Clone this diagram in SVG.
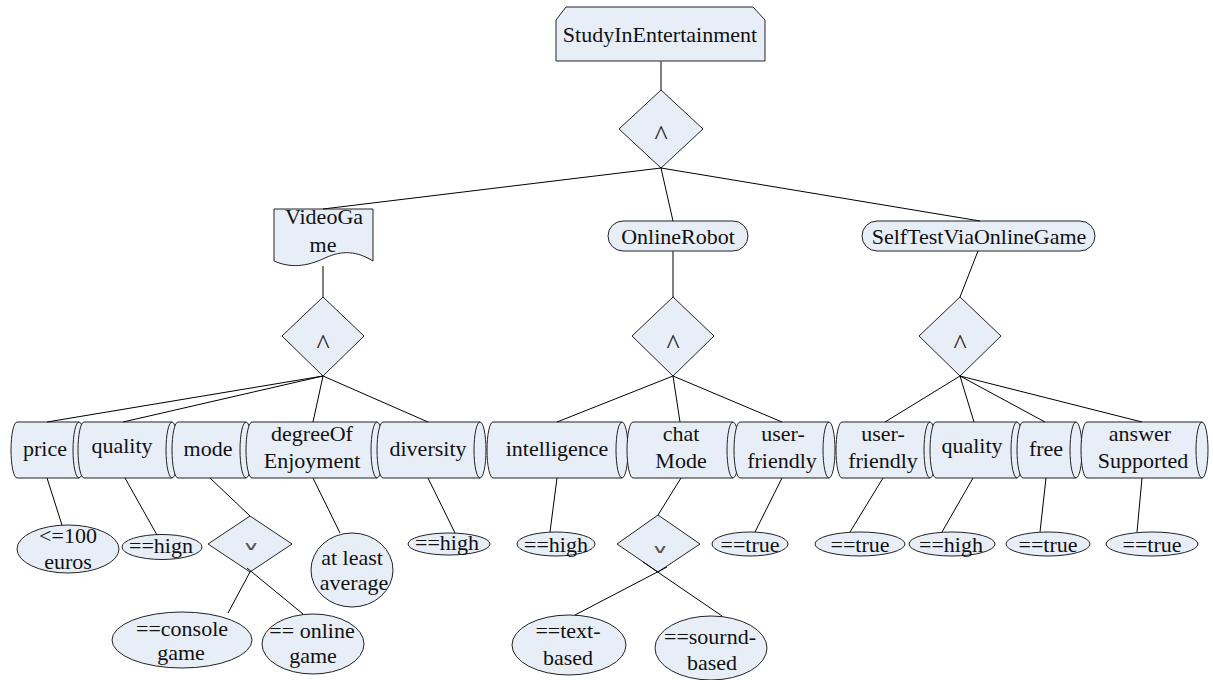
<svg xmlns="http://www.w3.org/2000/svg" width="1213" height="680" viewBox="0 0 1213 680">
<style>
.n{fill:#E8EEF8;stroke:#222;stroke-width:1}
.i{fill:none;stroke:#222;stroke-width:1}
.t{font-family:"Liberation Serif","Times New Roman",serif;font-size:22px;fill:#111;text-anchor:middle}
.k{font-family:"Liberation Serif","Times New Roman",serif;font-size:28px;fill:#222;text-anchor:middle}
.o{font-family:"DejaVu Serif","DejaVu Sans",serif;font-size:24px;fill:#555;text-anchor:middle}
.c{stroke:#000;stroke-width:1;fill:none}
.g{stroke:#555;stroke-width:1.5;fill:none}
</style>
<rect width="1213" height="680" fill="#fff"/>
<g id="nodes">
<g id="root"><path class="n" d="M566,7 H753 L765,20 V61 H556 V20 Z"/><text class="t" x="660" y="42">StudyInEntertainment</text></g>
<g id="and0"><polygon class="n" points="661,90 703,129 661,168 619,129"/><text class="k" x="661" y="144">^</text></g>
<g id="videogame"><path class="n" d="M274,209 H373 V261 C357,251 342,250 325,258 C306,267 290,268 274,261 Z"/><text class="t" x="324" y="224">VideoGa</text><text class="t" x="323" y="252">me</text></g>
<g id="onlinerobot"><rect class="n" x="608" y="221" width="140" height="30" rx="15"/><text class="t" x="678" y="244">OnlineRobot</text></g>
<g id="selftest"><rect class="n" x="862" y="221" width="233" height="30" rx="15"/><text class="t" x="979" y="244">SelfTestViaOnlineGame</text></g>
<g id="and1"><polygon class="n" points="323,297 364,336 323,376 282,336"/><text class="k" x="323" y="353">^</text></g>
<g id="and2"><polygon class="n" points="673,297 714,336 673,376 632,336"/><text class="k" x="673" y="353">^</text></g>
<g id="and3"><polygon class="n" points="960,297 1001,336 960,376 919,336"/><text class="k" x="960" y="353">^</text></g>

<g id="price"><path class="n" d="M17,422 H79 A6,28 0 0 1 79,478 H17 A6,28 0 0 1 17,422 Z"/><path class="i" d="M79,422 A6,28 0 0 0 79,478"/><text class="t" x="45" y="456">price</text></g>
<g id="quality1"><path class="n" d="M84,422 H172 A6,28 0 0 1 172,478 H84 A6,28 0 0 1 84,422 Z"/><path class="i" d="M172,422 A6,28 0 0 0 172,478"/><text class="t" x="122" y="453">quality</text></g>
<g id="mode"><path class="n" d="M178,422 H246 A6,28 0 0 1 246,478 H178 A6,28 0 0 1 178,422 Z"/><path class="i" d="M246,422 A6,28 0 0 0 246,478"/><text class="t" x="208" y="456">mode</text></g>
<g id="degree"><path class="n" d="M252,422 H377 A6,28 0 0 1 377,478 H252 A6,28 0 0 1 252,422 Z"/><path class="i" d="M377,422 A6,28 0 0 0 377,478"/><text class="t" x="312" y="441">degreeOf</text><text class="t" x="312" y="468">Enjoyment</text></g>
<g id="diversity"><path class="n" d="M383,422 H480 A6,28 0 0 1 480,478 H383 A6,28 0 0 1 383,422 Z"/><path class="i" d="M480,422 A6,28 0 0 0 480,478"/><text class="t" x="428" y="456">diversity</text></g>
<g id="intelligence"><path class="n" d="M493,422 H622 A6,28 0 0 1 622,478 H493 A6,28 0 0 1 493,422 Z"/><path class="i" d="M622,422 A6,28 0 0 0 622,478"/><text class="t" x="557" y="456">intelligence</text></g>
<g id="chatmode"><path class="n" d="M633,422 H733 A6,28 0 0 1 733,478 H633 A6,28 0 0 1 633,422 Z"/><path class="i" d="M733,422 A6,28 0 0 0 733,478"/><text class="t" x="681" y="441">chat</text><text class="t" x="681" y="468">Mode</text></g>
<g id="userfriendly1"><path class="n" d="M740,422 H829 A6,28 0 0 1 829,478 H740 A6,28 0 0 1 740,422 Z"/><path class="i" d="M829,422 A6,28 0 0 0 829,478"/><text class="t" x="783" y="441">user-</text><text class="t" x="782" y="468">friendly</text></g>
<g id="userfriendly2"><path class="n" d="M842,422 H930 A6,28 0 0 1 930,478 H842 A6,28 0 0 1 842,422 Z"/><path class="i" d="M930,422 A6,28 0 0 0 930,478"/><text class="t" x="883" y="441">user-</text><text class="t" x="883" y="468">friendly</text></g>
<g id="quality2"><path class="n" d="M936,422 H1017 A6,28 0 0 1 1017,478 H936 A6,28 0 0 1 936,422 Z"/><path class="i" d="M1017,422 A6,28 0 0 0 1017,478"/><text class="t" x="972" y="453">quality</text></g>
<g id="free"><path class="n" d="M1023,422 H1076 A6,28 0 0 1 1076,478 H1023 A6,28 0 0 1 1023,422 Z"/><path class="i" d="M1076,422 A6,28 0 0 0 1076,478"/><text class="t" x="1046" y="456">free</text></g>
<g id="answer"><path class="n" d="M1087,422 H1202 A6,28 0 0 1 1202,478 H1087 A6,28 0 0 1 1087,422 Z"/><path class="i" d="M1202,422 A6,28 0 0 0 1202,478"/><text class="t" x="1140" y="441">answer</text><text class="t" x="1143" y="468">Supported</text></g>

<g id="v-price"><ellipse class="n" cx="68" cy="549" rx="51" ry="24"/><text class="t" x="68" y="543">&lt;=100</text><text class="t" x="68" y="569">euros</text></g>
<g id="v-quality1"><ellipse class="n" cx="162" cy="547" rx="40" ry="12.5"/><text class="t" x="161" y="553">==hign</text></g>
<g id="or-mode"><polygon class="n" points="250,516 292,544 250,572 208,544"/><text class="o" transform="translate(251,550) scale(1,0.5)">∨</text></g>
<g id="v-console"><ellipse class="n" cx="182" cy="640" rx="70" ry="28"/><text class="t" x="182" y="636">==console</text><text class="t" x="181" y="660">game</text></g>
<g id="v-online"><ellipse class="n" cx="313" cy="644" rx="51" ry="30"/><text class="t" x="312" y="638">== online</text><text class="t" x="313" y="663">game</text></g>
<g id="v-degree"><ellipse class="n" cx="352" cy="570" rx="41" ry="37"/><text class="t" x="352" y="565">at least</text><text class="t" x="354" y="590">average</text></g>
<g id="v-diversity"><ellipse class="n" cx="449" cy="544" rx="41" ry="11"/><text class="t" x="447" y="550">==high</text></g>
<g id="v-intelligence"><ellipse class="n" cx="556" cy="544" rx="39" ry="12"/><text class="t" x="556" y="552">==high</text></g>
<g id="or-chat"><polygon class="n" points="658,515 700,544 658,572 617,544"/><text class="o" transform="translate(660,553) scale(1,0.5)">∨</text></g>
<g id="v-text"><ellipse class="n" cx="569" cy="645" rx="57" ry="30"/><text class="t" x="568" y="638">==text-</text><text class="t" x="568" y="665">based</text></g>
<g id="v-sound"><ellipse class="n" cx="711" cy="648" rx="56" ry="32"/><text class="t" x="710" y="644">==sournd-</text><text class="t" x="712" y="670">based</text></g>
<g id="v-uf1"><ellipse class="n" cx="750" cy="544" rx="38" ry="12"/><text class="t" x="750" y="552">==true</text></g>
<g id="v-uf2"><ellipse class="n" cx="860" cy="544" rx="45" ry="12"/><text class="t" x="860" y="552">==true</text></g>
<g id="v-quality2"><ellipse class="n" cx="952" cy="544" rx="43" ry="12"/><text class="t" x="951" y="552">==high</text></g>
<g id="v-free"><ellipse class="n" cx="1048" cy="544" rx="42" ry="12"/><text class="t" x="1048" y="552">==true</text></g>
<g id="v-answer"><ellipse class="n" cx="1152" cy="544" rx="46" ry="12"/><text class="t" x="1152" y="552">==true</text></g>
</g>
<g id="connectors">
<line class="g" x1="661" y1="61" x2="661" y2="90"/>
<line class="c" x1="661" y1="168" x2="323" y2="209"/>
<line class="c" x1="661" y1="168" x2="673" y2="221"/>
<line class="c" x1="661" y1="168" x2="980" y2="221"/>
<line class="g" x1="323" y1="266" x2="323" y2="297"/>
<line class="g" x1="673" y1="251" x2="673" y2="297"/>
<line class="c" x1="978" y1="251" x2="960" y2="297"/>
<line class="c" x1="323" y1="376" x2="47" y2="422"/>
<line class="c" x1="323" y1="376" x2="123" y2="422"/>
<line class="c" x1="323" y1="376" x2="313" y2="422"/>
<line class="c" x1="323" y1="376" x2="428" y2="422"/>
<line class="c" x1="673" y1="376" x2="557" y2="422"/>
<line class="c" x1="673" y1="376" x2="680" y2="422"/>
<line class="c" x1="673" y1="376" x2="782" y2="422"/>
<line class="c" x1="960" y1="376" x2="885" y2="422"/>
<line class="c" x1="960" y1="376" x2="974" y2="422"/>
<line class="c" x1="960" y1="376" x2="1045" y2="422"/>
<line class="c" x1="960" y1="376" x2="1142" y2="422"/>
<line class="c" x1="47" y1="478" x2="62" y2="525"/>
<line class="c" x1="125" y1="478" x2="157" y2="535"/>
<line class="c" x1="210" y1="478" x2="250" y2="516"/>
<line class="c" x1="250" y1="572" x2="228" y2="613"/>
<line class="c" x1="247" y1="568" x2="303" y2="614"/>
<line class="c" x1="313" y1="478" x2="340" y2="533"/>
<line class="c" x1="428" y1="478" x2="455" y2="533"/>
<line class="c" x1="557" y1="478" x2="550" y2="532"/>
<line class="c" x1="681" y1="478" x2="658" y2="515"/>
<line class="c" x1="667" y1="567" x2="575" y2="615"/>
<line class="c" x1="643" y1="562" x2="722" y2="616"/>
<line class="c" x1="782" y1="478" x2="755" y2="532"/>
<line class="c" x1="883" y1="478" x2="850" y2="532"/>
<line class="c" x1="973" y1="478" x2="942" y2="532"/>
<line class="c" x1="1046" y1="478" x2="1040" y2="532"/>
<line class="c" x1="1142" y1="478" x2="1137" y2="532"/>
</g>
</svg>
